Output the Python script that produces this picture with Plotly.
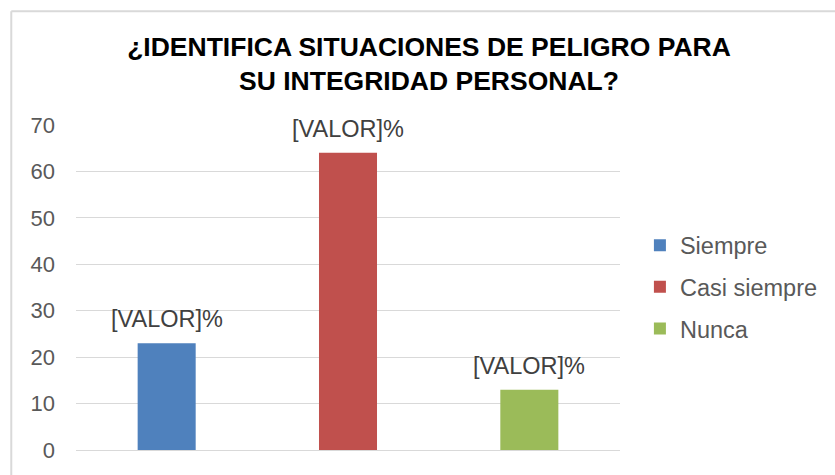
import plotly.graph_objects as go

categories = ["Siempre", "Casi siempre", "Nunca"]
values = [23, 64, 13]
colors = ["#4F81BD", "#C0504D", "#9BBB59"]
label_text = "[VALOR]%"
y_ticks = [0, 10, 20, 30, 40, 50, 60, 70]

FONT = "Liberation Sans, Arial"

fig = go.Figure()
for i, (cat, val, col) in enumerate(zip(categories, values, colors)):
    fig.add_trace(go.Bar(
        x=[cat], y=[val], name=cat, marker=dict(color=col, line=dict(width=0)),
        width=0.32, legendgroup=cat,
    ))
    fig.add_annotation(
        x=cat, y=val, text=label_text, showarrow=False, yanchor="bottom",
        yshift=9, font=dict(family=FONT, size=23.5, color="#404040"),
    )

fig.update_layout(
    width=835, height=475,
    margin=dict(l=76, r=213, t=125, b=23),
    paper_bgcolor="white", plot_bgcolor="white",
    barmode="overlay",
    title=dict(
        text="<b>¿IDENTIFICA SITUACIONES DE PELIGRO PARA<br>SU INTEGRIDAD PERSONAL?</b>",
        x=429 / 835, xanchor="center", y=1 - 56 / 475, yanchor="middle", yref="container",
        font=dict(family=FONT, size=26.5, color="#000000"),
    ),
    legend=dict(
        x=1.0366, xanchor="left", y=(452 - 288) / 327, yanchor="middle",
        font=dict(family=FONT, size=23.5, color="#595959"),
        tracegroupgap=8, bgcolor="rgba(0,0,0,0)",
    ),
    showlegend=True,
)
fig.update_xaxes(showticklabels=False, showgrid=False, showline=True,
                 linecolor="#D9D9D9", linewidth=1, ticks="", range=[-0.5, 2.5])
fig.update_yaxes(range=[0, 70], tickvals=y_ticks, showgrid=True, gridcolor="#D9D9D9",
                 gridwidth=1, zeroline=False, showline=False,
                 tickfont=dict(family=FONT, size=22, color="#595959"),
                 ticklabelstandoff=20)

# Chart-area border (top and left visible)
fig.add_shape(type="line", xref="paper", yref="paper", x0=-0.119, x1=1.4, y0=1.350, y1=1.350,
              line=dict(color="#D9D9D9", width=2))
fig.add_shape(type="line", xref="paper", yref="paper", x0=-0.119, x1=-0.119, y0=1.350, y1=-0.08,
              line=dict(color="#D9D9D9", width=2))

fig.write_html("out.html", config={"displayModeBar": False},
               post_script="document.body.style.margin='0';")
